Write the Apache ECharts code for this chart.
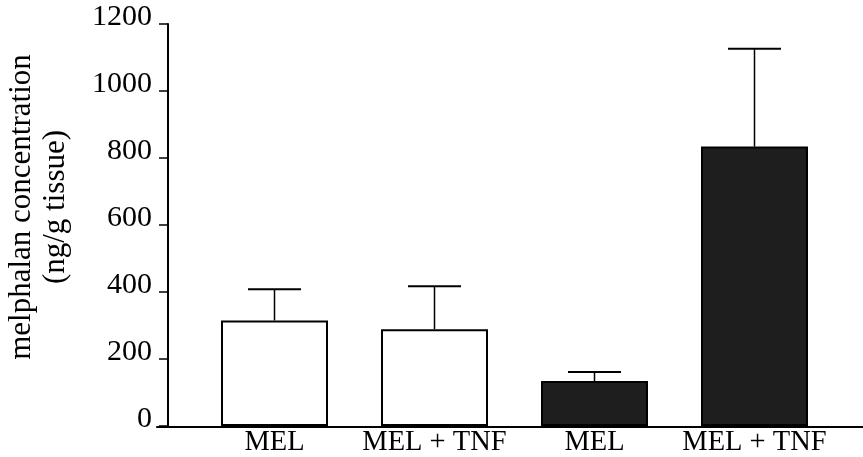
<!DOCTYPE html>
<html>
<head>
<meta charset="utf-8">
<script src="https://cdn.jsdelivr.net/npm/echarts@6/dist/echarts.min.js"></script>
<style>html,body{margin:0;padding:0;background:#fff}#c{width:863px;height:457px}</style>
</head>
<body>
<div id="c"></div>
<script>
var categories = ['MEL', 'MEL + TNF', 'MEL', 'MEL + TNF'];
var means = [315, 289, 134, 834];
var errTops = [408, 417, 161, 1126];
var fills = ['#ffffff', '#ffffff', '#1e1e1e', '#1e1e1e'];
var yTicks = [0, 200, 400, 600, 800, 1000, 1200];

var font = "'Liberation Serif', 'Times New Roman', serif";
var chart = echarts.init(document.getElementById('c'), null, {renderer: 'canvas'});

chart.setOption({
  animation: false,
  backgroundColor: '#fff',
  grid: [
    {left: 194.5, right: 28.5, top: 24, bottom: 30},
    {left: 157, right: 0, top: 24, bottom: 30}
  ],
  xAxis: [
    {
      type: 'category', gridIndex: 0, data: categories,
      axisLine: {show: false}, axisTick: {show: false},
      axisLabel: {color: '#000', fontFamily: font, fontSize: 28.5, margin: 2, interval: 0}
    },
    {
      type: 'value', gridIndex: 1, min: 0, max: 1,
      axisLine: {show: true, lineStyle: {color: '#000', width: 2}},
      axisTick: {show: false}, axisLabel: {show: false}, splitLine: {show: false}
    }
  ],
  yAxis: [
    {
      type: 'value', gridIndex: 0, min: 0, max: 1200, interval: 200, offset: 26.5,
      axisLine: {show: true, lineStyle: {color: '#000', width: 2}},
      axisTick: {show: true, length: 9, inside: false, lineStyle: {color: '#000', width: 1.5}},
      axisLabel: {color: '#000', fontFamily: font, fontSize: 30, margin: 16,
        verticalAlign: 'bottom', lineHeight: 13,
        formatter: function (v) { return yTicks.indexOf(v) >= 0 ? String(v) : ''; }},
      splitLine: {show: false}
    },
    {type: 'value', gridIndex: 1, show: false, min: 0, max: 1}
  ],
  graphic: [{
    type: 'text', x: 39, y: 207, rotation: Math.PI / 2,
    style: {
      text: 'melphalan concentration\n(ng/g tissue)',
      font: '31px ' + font, fill: '#000', align: 'center', verticalAlign: 'middle',
      lineHeight: 34
    }
  }],
  series: [
    {
      type: 'bar', xAxisIndex: 0, yAxisIndex: 0, barWidth: 107,
      data: means.map(function (v, i) {
        return {value: v, itemStyle: {color: fills[i], borderColor: '#000', borderWidth: 2}};
      }),
      z: 2
    },
    {
      type: 'custom', xAxisIndex: 0, yAxisIndex: 0, z: 3,
      data: means.map(function (v, i) { return [i, v, errTops[i]]; }),
      renderItem: function (params, api) {
        var base = api.coord([api.value(0), api.value(1)]);
        var top = api.coord([api.value(0), api.value(2)]);
        var hw = 26.5;
        return {
          type: 'group',
          children: [
            {type: 'line', shape: {x1: base[0], y1: base[1], x2: top[0], y2: top[1]},
              style: {stroke: '#000', lineWidth: 1.5}},
            {type: 'line', shape: {x1: top[0] - hw, y1: top[1], x2: top[0] + hw, y2: top[1]},
              style: {stroke: '#000', lineWidth: 2}}
          ]
        };
      }
    }
  ]
});
</script>
</body>
</html>
